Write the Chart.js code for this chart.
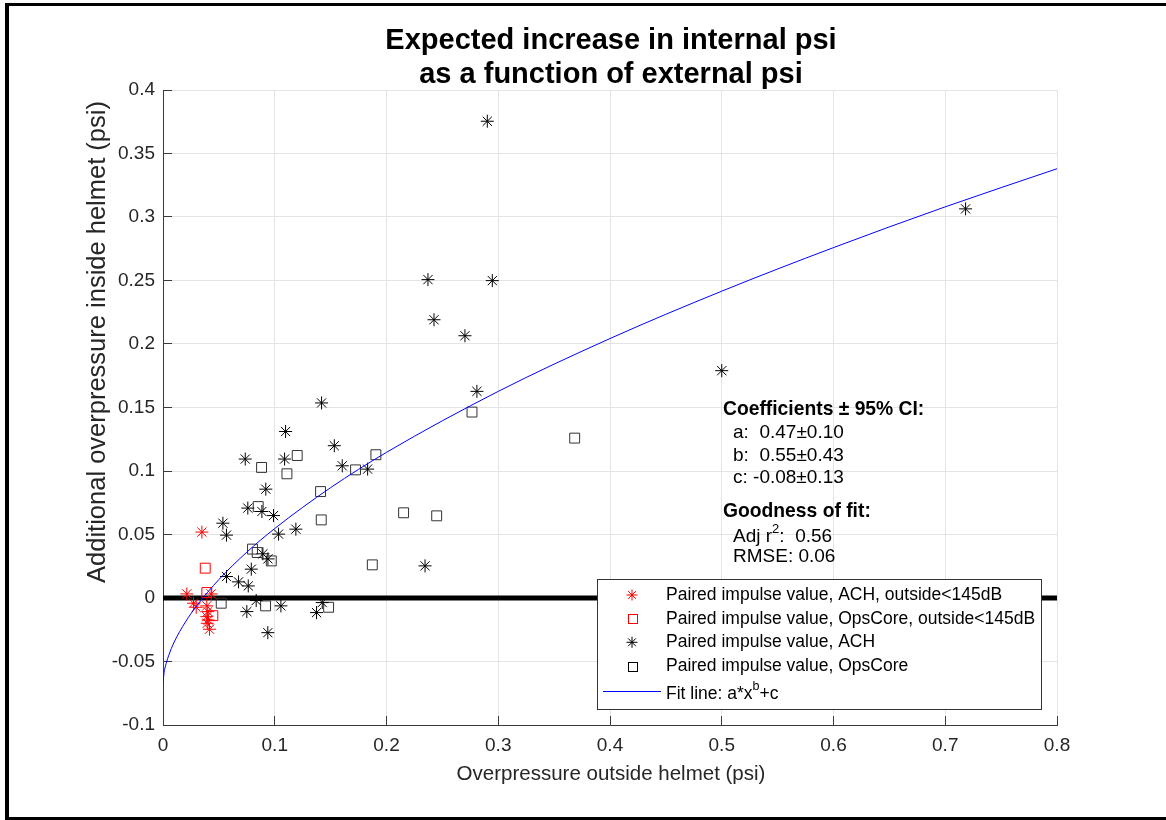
<!DOCTYPE html>
<html><head><meta charset="utf-8">
<script src="https://cdn.jsdelivr.net/npm/chart.js@4"></script>
<style>
html,body{margin:0;padding:0;background:#fff;}
#wrap{position:relative;width:1166px;height:820px;overflow:hidden;background:#fff;}
#frame{position:absolute;left:5px;top:3px;width:1200px;height:817px;box-sizing:border-box;border-left:4px solid #000;border-top:3px solid #000;border-bottom:3px solid #000;pointer-events:none;}
canvas{position:absolute;left:0;top:0;}
</style></head><body>
<div id="wrap"><canvas id="c" width="1166" height="820"></canvas><div id="frame"></div></div>
<script>
// ---- data ----
const achLowX = [0.0348, 0.0213, 0.0431, 0.0273, 0.0297, 0.0392, 0.0401, 0.0392, 0.0405, 0.0396, 0.0416];
const achLowY = [0.0519, 0.0032, 0.0032, -0.0041, -0.0073, -0.0062, -0.0107, -0.0147, -0.0173, -0.0199, -0.0246];
const opsLowX = [0.0378, 0.0392, 0.0446];
const opsLowY = [0.0235, 0.0043, -0.0139];
const achX = [0.1097, 0.1533, 0.0736, 0.1088, 0.1604, 0.1831, 0.0920, 0.0759, 0.0885, 0.0989, 0.0536, 0.0568, 0.1034, 0.1189, 0.0894, 0.0939, 0.0790, 0.0568, 0.0676, 0.0763, 0.0834, 0.0750, 0.1055, 0.0938, 0.1425, 0.1374, 0.1419, 0.2902, 0.2371, 0.2947, 0.2425, 0.2702, 0.2809, 0.2345, 0.5000, 0.7182];
const achY = [0.1311, 0.1199, 0.1094, 0.1094, 0.1041, 0.1015, 0.0857, 0.0708, 0.0681, 0.0649, 0.0589, 0.0495, 0.0503, 0.0542, 0.0348, 0.0308, 0.0227, 0.0169, 0.0127, 0.0095, -0.0020, -0.0107, -0.0062, -0.0273, -0.0036, -0.0115, 0.1536, 0.3754, 0.2507, 0.2499, 0.2191, 0.2065, 0.1627, 0.0253, 0.1790, 0.3064];
const opsX = [0.1201, 0.0882, 0.1109, 0.1905, 0.1723, 0.1410, 0.1416, 0.0852, 0.0801, 0.0843, 0.0969, 0.1873, 0.0521, 0.0918, 0.1482, 0.2765, 0.3684, 0.2153, 0.2449];
const opsY = [0.1122, 0.1028, 0.0978, 0.1128, 0.1009, 0.0838, 0.0615, 0.0720, 0.0385, 0.0358, 0.0292, 0.0261, -0.0041, -0.0062, -0.0073, 0.1464, 0.1259, 0.0671, 0.0647];
const fitX = [0, 0.001, 0.002, 0.005, 0.01, 0.02, 0.03, 0.05, 0.075, 0.1, 0.15, 0.2, 0.3, 0.4, 0.5, 0.6, 0.7, 0.8];
const fitY = [-0.067, -0.0585, -0.0543, -0.0455, -0.0347, -0.019, -0.0063, 0.0145, 0.0361, 0.0547, 0.0869, 0.1147, 0.1627, 0.2043, 0.2416, 0.2759, 0.308, 0.338];
const zeroX = [0, 0.8];
const zeroY = [0, 0];
const xTickValues = [0, 0.1, 0.2, 0.3, 0.4, 0.5, 0.6, 0.7, 0.8];
const xTickLabels = ['0', '0.1', '0.2', '0.3', '0.4', '0.5', '0.6', '0.7', '0.8'];
const yTickValues = [-0.1, -0.05, 0, 0.05, 0.1, 0.15, 0.2, 0.25, 0.3, 0.35, 0.4];
const yTickLabels = ['-0.1', '-0.05', '0', '0.05', '0.1', '0.15', '0.2', '0.25', '0.3', '0.35', '0.4'];
const legendLabels = ['Paired impulse value, ACH, outside<145dB', 'Paired impulse value, OpsCore, outside<145dB', 'Paired impulse value, ACH', 'Paired impulse value, OpsCore', 'Fit line: a*x'];
const titleLines = ['Expected increase in internal psi', 'as a function of external psi'];
const xTitle = 'Overpressure outside helmet (psi)';
const yTitle = 'Additional overpressure inside helmet (psi)';
const coefLines = ['a:  0.47\u00B10.10', 'b:  0.55\u00B10.43', 'c: -0.08\u00B10.13'];

const FONT = "'Liberation Sans', Arial, Helvetica, sans-serif";
const pts = (xs, ys) => xs.map((x, i) => ({x: x, y: ys[i]}));

function drawStar(ctx, x, y, r, color) {
  ctx.save(); ctx.strokeStyle = color; ctx.lineWidth = 1; ctx.beginPath();
  ctx.moveTo(x - r, y); ctx.lineTo(x + r, y);
  ctx.moveTo(x, y - r); ctx.lineTo(x, y + r);
  const d = r * Math.SQRT1_2;
  ctx.moveTo(x - d, y - d); ctx.lineTo(x + d, y + d);
  ctx.moveTo(x - d, y + d); ctx.lineTo(x + d, y - d);
  ctx.stroke(); ctx.restore();
}
function drawSquare(ctx, x, y, s, color) {
  ctx.save(); ctx.strokeStyle = color; ctx.lineWidth = 1;
  ctx.strokeRect(Math.round(x - s / 2) + 0.5, Math.round(y - s / 2) + 0.5, s, s); ctx.restore();
}

const textPlugin = {
  id: 'textPlugin',
  afterDraw(chart) {
    const ctx = chart.ctx;
    ctx.save();
    // title
    ctx.fillStyle = '#000'; ctx.textAlign = 'center'; ctx.textBaseline = 'middle';
    ctx.font = 'bold 29px ' + FONT;
    ctx.fillText(titleLines[0], 611, 41);
    ctx.fillText(titleLines[1], 611, 75);
    // axis titles
    ctx.fillStyle = '#262626';
    ctx.font = '20.5px ' + FONT;
    ctx.fillText(xTitle, 611, 774);
    ctx.save();
    ctx.translate(98, 342); ctx.rotate(-Math.PI / 2);
    ctx.font = '25.5px ' + FONT;
    ctx.fillText(yTitle, 0, 0);
    ctx.restore();
    // annotation
    ctx.fillStyle = '#000'; ctx.textAlign = 'left';
    ctx.font = 'bold 19.3px ' + FONT;
    ctx.fillText('Coefficients \u00B1 95% CI:', 723, 410);
    ctx.fillText('Goodness of fit:', 723, 512);
    ctx.font = '19px ' + FONT;
    ctx.fillText(coefLines[0], 733, 433);
    ctx.fillText(coefLines[1], 733, 455.5);
    ctx.fillText(coefLines[2], 733, 478);
    let w = ctx.measureText('Adj r').width;
    ctx.fillText('Adj r', 733, 537);
    ctx.font = '13px ' + FONT;
    ctx.fillText('2', 733 + w, 529);
    const w2 = ctx.measureText('2').width;
    ctx.font = '19px ' + FONT;
    ctx.fillText(':  0.56', 733 + w + w2, 537);
    ctx.fillText('RMSE: 0.06', 733, 557);
    // legend
    ctx.fillStyle = '#fff'; ctx.fillRect(597, 579, 445, 130);
    ctx.strokeStyle = '#333'; ctx.lineWidth = 1; ctx.strokeRect(597.5, 579.5, 444, 130);
    const rows = [595, 618.7, 642.3, 666, 694.5];
    drawStar(ctx, 632, rows[0], 5.5, '#ff0000');
    drawSquare(ctx, 632, rows[1], 9, '#ff0000');
    drawStar(ctx, 632, rows[2], 5.5, '#000');
    drawSquare(ctx, 632, rows[3], 9, '#000');
    ctx.strokeStyle = '#0000ff'; ctx.lineWidth = 1;
    ctx.beginPath(); ctx.moveTo(603, 691.5); ctx.lineTo(661, 691.5); ctx.stroke();
    ctx.fillStyle = '#000'; ctx.font = '17.5px ' + FONT;
    for (let i = 0; i < 4; i++) ctx.fillText(legendLabels[i], 666, rows[i]);
    ctx.fillText(legendLabels[4], 666, rows[4]);
    w = ctx.measureText(legendLabels[4]).width;
    ctx.font = '12.5px ' + FONT;
    ctx.fillText('b', 666 + w, rows[4] - 8);
    const wb = ctx.measureText('b').width;
    ctx.font = '17.5px ' + FONT;
    ctx.fillText('+c', 666 + w + wb, rows[4]);
    ctx.restore();
  }
};

const gridOpts = {color: '#e4e4e4', lineWidth: 1, drawTicks: true, tickLength: -9, tickColor: '#3a3a3a'};

new Chart(document.getElementById('c'), {
  type: 'scatter',
  data: {
    datasets: [
      {label: legendLabels[0], data: pts(achLowX, achLowY), pointStyle: 'star', pointRadius: 6.5, pointBorderColor: '#ff0000', borderColor: '#ff0000', pointBorderWidth: 1, backgroundColor: 'rgba(0,0,0,0)', order: 1},
      {label: legendLabels[1], data: pts(opsLowX, opsLowY), pointStyle: 'rect', pointRadius: 7, pointBorderColor: '#ff0000', borderColor: '#ff0000', pointBorderWidth: 1, backgroundColor: 'rgba(0,0,0,0)', pointBackgroundColor: 'rgba(0,0,0,0)', order: 2},
      {label: legendLabels[2], data: pts(achX, achY), pointStyle: 'star', pointRadius: 6.5, pointBorderColor: '#000', borderColor: '#000', pointBorderWidth: 1, backgroundColor: 'rgba(0,0,0,0)', order: 3},
      {label: legendLabels[3], data: pts(opsX, opsY), pointStyle: 'rect', pointRadius: 7, pointBorderColor: '#333', borderColor: '#333', pointBorderWidth: 1, backgroundColor: 'rgba(0,0,0,0)', pointBackgroundColor: 'rgba(0,0,0,0)', order: 4},
      {label: legendLabels[4], data: pts(fitX, fitY), showLine: true, pointRadius: 0, borderColor: '#0000ff', borderWidth: 1, cubicInterpolationMode: 'monotone', fill: false, order: 0},
      {label: 'zero', data: pts(zeroX, zeroY), showLine: true, pointRadius: 0, borderColor: '#000', borderWidth: 5, fill: false, order: 10, clip: 10}
    ]
  },
  options: {
    responsive: false,
    animation: false,
    devicePixelRatio: 1,
    layout: {padding: {top: 90, right: 109, left: 0, bottom: 0}},
    plugins: {legend: {display: false}, tooltip: {enabled: false}, title: {display: false}},
    scales: {
      x: {
        type: 'linear', min: 0, max: 0.8,
        afterFit: s => { s.height = 95; },
        afterBuildTicks: s => { s.ticks = xTickValues.map(v => ({value: v})); },
        ticks: {callback: (v, i) => xTickLabels[i], font: {family: FONT, size: 19}, color: '#262626', padding: 18, maxRotation: 0, autoSkip: false},
        grid: gridOpts,
        border: {display: true, color: '#3a3a3a', width: 1}
      },
      y: {
        type: 'linear', min: -0.1, max: 0.4,
        afterFit: s => { s.width = 163; },
        afterBuildTicks: s => { s.ticks = yTickValues.map(v => ({value: v})); },
        ticks: {callback: (v, i) => yTickLabels[i], font: {family: FONT, size: 19}, color: '#262626', padding: 17, autoSkip: false},
        grid: gridOpts,
        border: {display: true, color: '#3a3a3a', width: 1}
      }
    }
  },
  plugins: [textPlugin]
});
</script>
</body></html>
